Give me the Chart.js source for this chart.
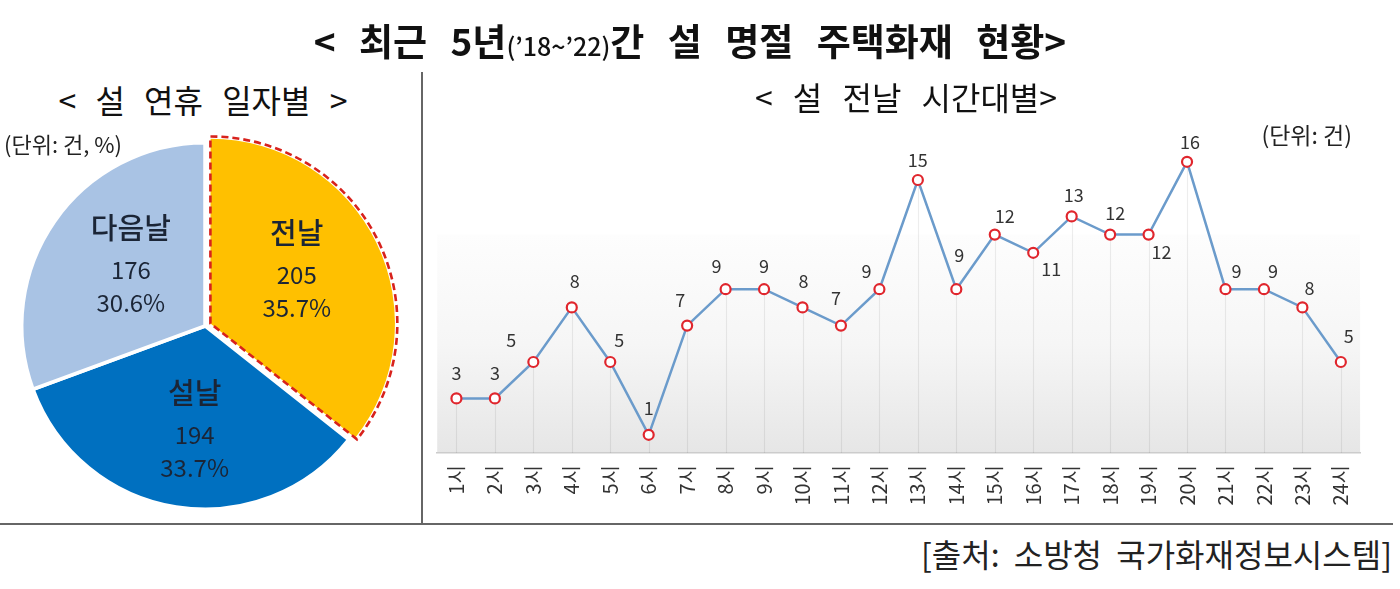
<!DOCTYPE html>
<html><head><meta charset="utf-8">
<script src="https://cdn.jsdelivr.net/npm/chart.js@4.4.1/dist/chart.umd.min.js"></script>
<style>
html,body{margin:0;padding:0;background:#fff;width:1400px;height:589px;overflow:hidden;font-family:'Noto Sans CJK KR','Noto Sans',sans-serif;color:#111;}
.abs{position:absolute;white-space:nowrap;z-index:2;}
canvas{position:absolute;z-index:1;}
</style></head><body>
<canvas id="pie" width="394" height="394" style="left:8px;top:129px;width:394px;height:394px"></canvas>
<canvas id="line" width="947" height="463" style="left:430px;top:60px;width:947px;height:463px"></canvas>

<div class="abs" style="left:0;width:1380px;top:12px;text-align:center;font-size:37px;font-weight:bold;line-height:56px;word-spacing:15px">&lt; 최근 5년<span style="font-size:25px;font-weight:500;word-spacing:0">(’18~’22)</span>간 설 명절 주택화재 현황&gt;</div>
<div class="abs" style="left:3px;width:400px;top:77px;text-align:center;font-size:32px;line-height:44px;word-spacing:12px">&lt; 설 연휴 일자별 &gt;</div>
<div class="abs" style="left:706px;width:400px;top:74px;text-align:center;font-size:32px;line-height:44px;word-spacing:13px">&lt; 설 전날 시간대별&gt;</div>
<div class="abs" style="left:4px;top:128px;font-size:22px;line-height:30px;color:#222">(단위: 건, %)</div>
<div class="abs" style="right:48px;top:119px;font-size:23px;line-height:30px;color:#222">(단위: 건)</div>
<div class="abs" style="left:421px;top:72px;width:2px;height:453px;background:#666"></div>
<div class="abs" style="left:0;top:523px;width:1393px;height:2px;background:#666"></div>
<div class="abs" style="right:8px;top:531px;font-size:32px;line-height:44px;color:#222;word-spacing:7px">[출처: 소방청 국가화재정보시스템]</div>

<script>
// ---- data ----
const pieLabels = ['전날', '설날', '다음날'];
const pieCounts = [205, 194, 176];
const piePercents = ['35.7%', '33.7%', '30.6%'];

const hourLabels = ['1시','2시','3시','4시','5시','6시','7시','8시','9시','10시','11시','12시',
  '13시','14시','15시','16시','17시','18시','19시','20시','21시','22시','23시','24시'];
const hourValues = [3,3,5,8,5,1,7,9,9,8,7,9,15,9,12,11,13,12,12,16,9,9,8,5];

// ---- styling (label placement nudges, px) ----
const lineLabelOffsets = [[0,-25],[0,-25],[-22,-22],[3,-26],[9,-22],[0,-27],[-7,-25],[-9,-23],[0,-23],[1,-26],[-5,-27],[-13,-18],
  [0,-20],[3,-34],[10,-18],[18,16],[2,-21],[5,-21],[13,18],[3,-20],[11,-18],[9,-18],[7,-19],[8,-26]];
const pieLabelPos = [[0.56,-6,-4],[0.6,7,0],[0.5,1,-4]]; // radius factor, dx, dy

const FONT = "'Noto Sans CJK KR','Noto Sans',sans-serif";
const PIE_OFFSET = 24;

const pieLabelPlugin = {
  id: 'pieLabels',
  afterDatasetsDraw(chart) {
    const ctx = chart.ctx;
    const meta = chart.getDatasetMeta(0);
    const a0 = meta.data[0];
    {
      const p = a0.getProps(['x','y','startAngle','endAngle','outerRadius','circumference'], true);
      const off = (a0.options.offset || 0);
      const mid = (p.startAngle + p.endAngle) / 2;
      const fix = 1 - Math.sin(Math.min(Math.PI, p.circumference || 0));
      const R = p.outerRadius + off * fix - 1.5;
      const cx = p.x + Math.cos(mid) * off / 4, cy = p.y + Math.sin(mid) * off / 4;
      ctx.save();
      ctx.beginPath();
      ctx.moveTo(cx, cy);
      ctx.arc(cx, cy, R, p.startAngle, p.endAngle);
      ctx.closePath();
      ctx.setLineDash([7, 4]);
      ctx.lineWidth = 2.6;
      ctx.strokeStyle = '#d8221c';
      ctx.stroke();
      ctx.restore();
    }
    meta.data.forEach((arc, i) => {
      const p = arc.getProps(['x','y','startAngle','endAngle','outerRadius'], true);
      const mid = (p.startAngle + p.endAngle) / 2;
      const [rf, dx, dy] = pieLabelPos[i];
      const off = (arc.options.offset || 0) / 4;
      const cx = p.x + Math.cos(mid) * (p.outerRadius * rf + off) + dx;
      const cy = p.y + Math.sin(mid) * (p.outerRadius * rf + off) + dy;
      ctx.save();
      ctx.fillStyle = '#1b2536';
      ctx.textAlign = 'center';
      ctx.textBaseline = 'middle';
      ctx.font = `500 29px ${FONT}`;
      ctx.fillText(pieLabels[i], cx, cy - 42);
      ctx.font = `24px ${FONT}`;
      ctx.fillText(String(pieCounts[i]), cx, cy);
      ctx.fillText(piePercents[i], cx, cy + 33);
      ctx.restore();
    });
  }
};

new Chart(document.getElementById('pie'), {
  type: 'pie',
  data: {
    labels: pieLabels,
    datasets: [{
      data: pieCounts,
      backgroundColor: ['#FFC000', '#0070C0', '#A9C3E4'],
      borderColor: '#ffffff',
      borderWidth: [0, 3.5, 3.5],
      offset: [PIE_OFFSET, 0, 0]
    }]
  },
  options: {
    responsive: false,
    animation: false,
    events: [],
    plugins: { legend: { display: false }, tooltip: { enabled: false } },
    layout: { padding: 0 }
  },
  plugins: [pieLabelPlugin]
});

// gradient band in lower part of plot + drop lines from each point to the axis
const bgPlugin = {
  id: 'bgGrad',
  beforeDraw(chart) {
    const {ctx, chartArea: a} = chart;
    const top = a.bottom - 0.6 * (a.bottom - a.top);
    const g = ctx.createLinearGradient(0, top, 0, a.bottom);
    g.addColorStop(0, '#fdfdfd');
    g.addColorStop(0.5, '#f6f6f6');
    g.addColorStop(1, '#e6e6e6');
    ctx.save();
    ctx.fillStyle = g;
    ctx.fillRect(a.left, top, a.right - a.left, a.bottom - top);
    ctx.restore();
  },
  beforeDatasetsDraw(chart) {
    const {ctx, chartArea: a} = chart;
    const meta = chart.getDatasetMeta(0);
    ctx.save();
    ctx.strokeStyle = 'rgba(0,0,0,0.07)';
    ctx.lineWidth = 1.2;
    meta.data.forEach(pt => {
      ctx.beginPath();
      ctx.moveTo(Math.round(pt.x) + 0.5, pt.y);
      ctx.lineTo(Math.round(pt.x) + 0.5, a.bottom);
      ctx.stroke();
    });
    ctx.restore();
  }
};

const lineLabelPlugin = {
  id: 'lineLabels',
  afterDatasetsDraw(chart) {
    const ctx = chart.ctx;
    const meta = chart.getDatasetMeta(0);
    ctx.save();
    ctx.fillStyle = '#333';
    ctx.font = `18px ${FONT}`;
    ctx.textAlign = 'center';
    ctx.textBaseline = 'middle';
    meta.data.forEach((pt, i) => {
      const [dx, dy] = lineLabelOffsets[i];
      ctx.fillText(String(hourValues[i]), pt.x + dx, pt.y + dy);
    });
    ctx.restore();
  }
};

new Chart(document.getElementById('line'), {
  type: 'line',
  data: {
    labels: hourLabels,
    datasets: [{
      data: hourValues,
      borderColor: '#6b9bcb',
      borderWidth: 2.5,
      tension: 0,
      pointRadius: 5,
      pointBorderWidth: 2.2,
      pointBorderColor: '#e0262d',
      pointBackgroundColor: '#ffffff'
    }]
  },
  options: {
    responsive: false,
    animation: false,
    events: [],
    layout: { padding: { left: 6, right: 2, top: 29, bottom: 0 } },
    plugins: { legend: { display: false }, tooltip: { enabled: false } },
    scales: {
      x: {
        offset: true,
        grid: { display: true, offset: false, drawTicks: false, color: 'rgba(0,0,0,0)' },
        border: { display: true, color: '#cccccc', width: 1.5 },
        ticks: { autoSkip: false, minRotation: 90, maxRotation: 90, padding: 12, color: '#333', font: { size: 20, family: FONT } },
        afterFit(axis) { axis.height = 70; }
      },
      y: { display: false, min: 0, max: 20 }
    }
  },
  plugins: [bgPlugin, lineLabelPlugin]
});
</script>
</body></html>
